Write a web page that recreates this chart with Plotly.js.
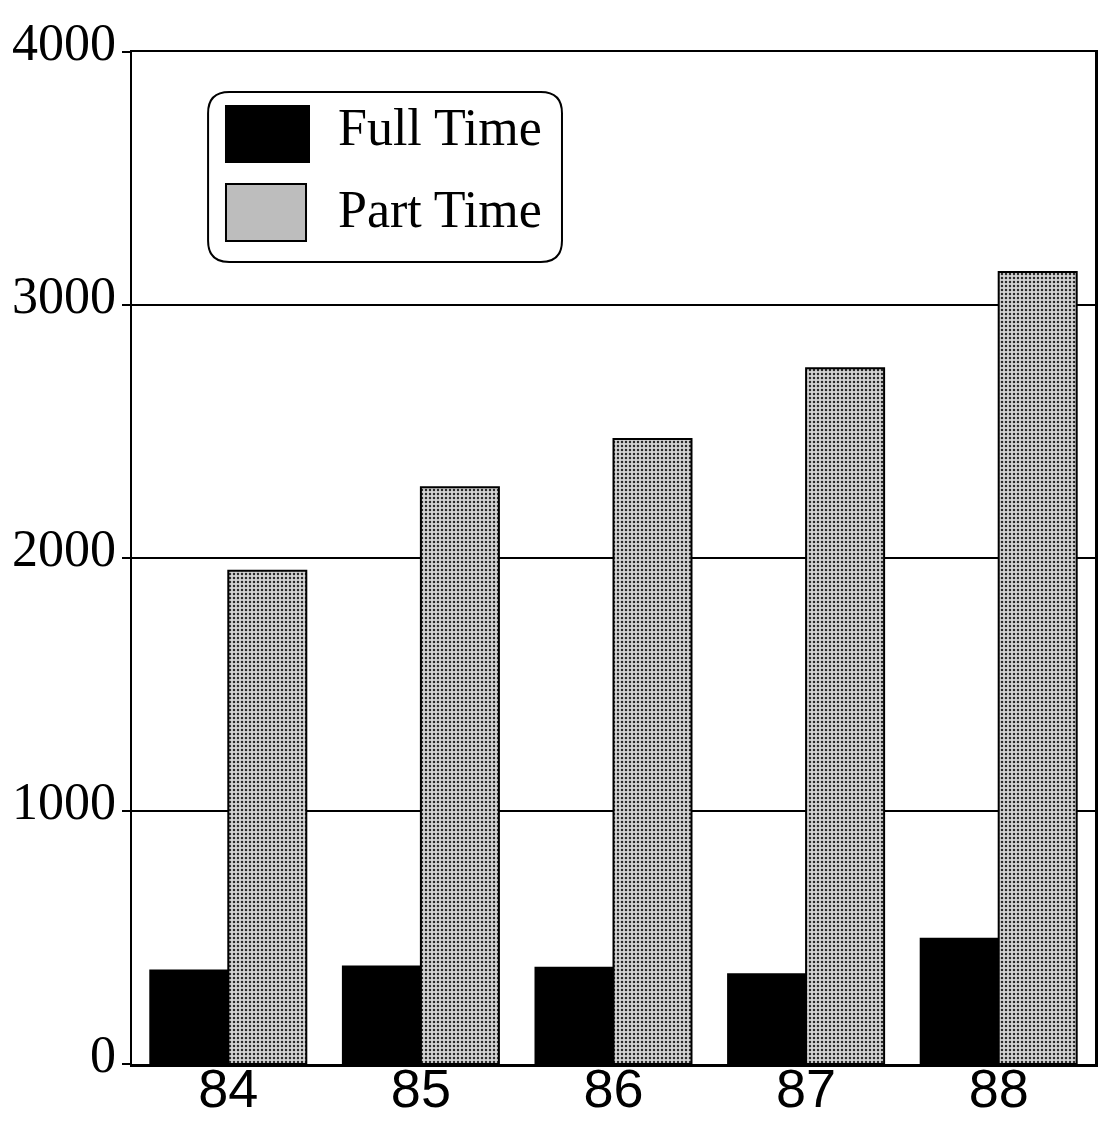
<!DOCTYPE html>
<html>
<head>
<meta charset="utf-8">
<script src="https://cdn.plot.ly/plotly-3.0.1.min.js"></script>
<style>
html,body{margin:0;padding:0;background:#fff;}
#chart{width:1106px;height:1129px;}
</style>
</head>
<body>
<div id="chart"></div>
<script>
// ---- data ----
const years = ['84', '85', '86', '87', '88'];
const fullTime = [370, 385, 380, 355, 495];
const partTime = [1950, 2280, 2470, 2750, 3130];
const seriesNames = ['Full Time', 'Part Time'];
const yTicks = [0, 1000, 2000, 3000, 4000];
const yTickLabels = ['0', '1000', '2000', '3000', '4000'];

const grayPattern = {shape: '.', fgcolor: '#2a2a2a', bgcolor: '#d4d4d4', size: 4, solidity: 0.3};

const traces = [
  {
    type: 'bar', name: seriesNames[0], x: years, y: fullTime,
    marker: {color: '#000000', line: {color: '#000000', width: 2}},
    showlegend: false, hoverinfo: 'x+y'
  },
  {
    type: 'bar', name: seriesNames[1], x: years, y: partTime,
    marker: {color: '#c0c0c0', pattern: grayPattern, line: {color: '#000000', width: 2}},
    showlegend: false, hoverinfo: 'x+y'
  }
];

// custom legend (large swatches like the original)
const L = {x0: 0.079, x1: 0.4465, y0: 0.7925, y1: 0.9605, rx: 0.022, ry: 0.021};
const roundRect = `M ${L.x0 + L.rx},${L.y0} L ${L.x1 - L.rx},${L.y0} Q ${L.x1},${L.y0} ${L.x1},${L.y0 + L.ry} ` +
  `L ${L.x1},${L.y1 - L.ry} Q ${L.x1},${L.y1} ${L.x1 - L.rx},${L.y1} L ${L.x0 + L.rx},${L.y1} ` +
  `Q ${L.x0},${L.y1} ${L.x0},${L.y1 - L.ry} L ${L.x0},${L.y0 + L.ry} Q ${L.x0},${L.y0} ${L.x0 + L.rx},${L.y0} Z`;

const shapes = [
  {type: 'path', xref: 'paper', yref: 'paper', path: roundRect,
   fillcolor: '#ffffff', line: {color: '#000000', width: 2}, layer: 'above'},
  {type: 'rect', xref: 'paper', yref: 'paper', x0: 0.0976, x1: 0.1838, y0: 0.8913, y1: 0.9466,
   fillcolor: '#000000', line: {color: '#000000', width: 2}, layer: 'above'},
  {type: 'rect', xref: 'paper', yref: 'paper', x0: 0.0976, x1: 0.1807, y0: 0.8132, y1: 0.8696,
   fillcolor: '#bdbdbd', line: {color: '#000000', width: 2}, layer: 'above'}
];

const annotations = [
  {xref: 'paper', yref: 'paper', x: 0.2118, y: 0.925, xanchor: 'left', yanchor: 'middle',
   text: seriesNames[0], showarrow: false,
   font: {family: 'Liberation Serif, Times New Roman, serif', size: 52, color: '#000'}},
  {xref: 'paper', yref: 'paper', x: 0.2118, y: 0.844, xanchor: 'left', yanchor: 'middle',
   text: seriesNames[1], showarrow: false,
   font: {family: 'Liberation Serif, Times New Roman, serif', size: 52, color: '#000'}}
];

const layout = {
  width: 1106, height: 1129,
  paper_bgcolor: '#ffffff', plot_bgcolor: '#ffffff',
  margin: {l: 132, r: 11, t: 52, b: 65, pad: 0},
  barmode: 'group', bargap: 0.19, bargroupgap: 0,
  xaxis: {
    type: 'category', showgrid: false, zeroline: false,
    showline: true, linecolor: '#000', linewidth: 2.5, mirror: true,
    ticks: '', ticklabelstandoff: -24,
    tickfont: {family: 'Liberation Sans, Arial, Helvetica, sans-serif', size: 54, color: '#000'}
  },
  yaxis: {
    range: [0, 4000], tickvals: yTicks, ticktext: yTickLabels,
    showgrid: true, gridcolor: '#000', gridwidth: 2.5,
    zeroline: false, showline: true, linecolor: '#000', linewidth: 2.5, mirror: true,
    ticks: 'outside', ticklen: 8, tickwidth: 2.5, tickcolor: '#000',
    ticklabelstandoff: -5, ticklabelshift: -10,
    tickfont: {family: 'Liberation Serif, Times New Roman, serif', size: 52, color: '#000'}
  },
  shapes: shapes,
  annotations: annotations,
  showlegend: false
};

Plotly.newPlot('chart', traces, layout, {displayModeBar: false, staticPlot: true});
</script>
</body>
</html>
